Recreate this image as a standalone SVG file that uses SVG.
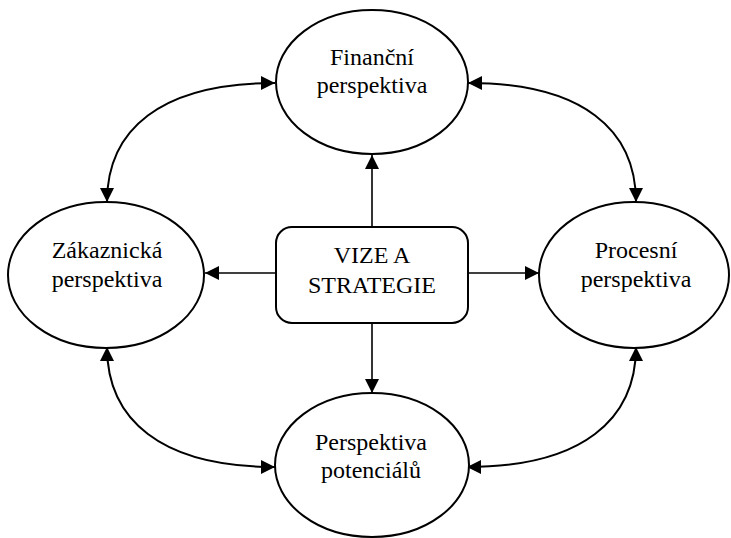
<svg xmlns="http://www.w3.org/2000/svg" width="731" height="538" viewBox="0 0 731 538">
  <style>
    .node { fill: #ffffff; stroke: #000000; stroke-width: 2; }
    .link { fill: none; stroke: #000000; stroke-width: 2; }
    .spoke { fill: none; stroke: #000000; stroke-width: 1.6; }
    .label { font-family: "Liberation Serif", "Times New Roman", serif; font-size: 24px; fill: #000000; text-anchor: middle; }
  </style>
  <defs>
    <marker id="arrow" markerUnits="userSpaceOnUse" markerWidth="15" markerHeight="15" refX="14" refY="7" orient="auto-start-reverse">
      <path d="M0,0 L14,7 L0,14 z" fill="#000000"/>
    </marker>
  </defs>
  <rect width="731" height="538" fill="#ffffff"/>

  <!-- connectors -->
  <g id="connectors">
    <!-- spokes from the centre box -->
    <path class="spoke" d="M372,227 L372,155" marker-end="url(#arrow)"/>
    <path class="spoke" d="M372,323 L372,393" marker-end="url(#arrow)"/>
    <path class="spoke" d="M276,273 L205,273" marker-end="url(#arrow)"/>
    <path class="spoke" d="M468,273 L539,273" marker-end="url(#arrow)"/>
    <!-- curved two-way links between perspectives -->
    <path class="link" d="M275,83 C160,83 107,130 107,202" marker-start="url(#arrow)" marker-end="url(#arrow)"/>
    <path class="link" d="M468,83 C583,83 636,130 636,202" marker-start="url(#arrow)" marker-end="url(#arrow)"/>
    <path class="link" d="M107,347 C107,419 160,467 275,467" marker-start="url(#arrow)" marker-end="url(#arrow)"/>
    <path class="link" d="M636,347 C636,419 583,467 467,467" marker-start="url(#arrow)" marker-end="url(#arrow)"/>
  </g>

  <g id="vize-strategie">
    <rect class="node" x="276" y="227" width="192" height="96" rx="16" ry="16"/>
    <text class="label" x="372" y="263">VIZE A</text>
    <text class="label" x="372" y="293">STRATEGIE</text>
  </g>

  <g id="financni">
    <ellipse class="node" cx="372" cy="82" rx="96" ry="72"/>
    <text class="label" x="372" y="65">Finanční</text>
    <text class="label" x="372" y="93">perspektiva</text>
  </g>

  <g id="zakaznicka">
    <ellipse class="node" cx="106" cy="275" rx="98" ry="73"/>
    <text class="label" x="107" y="258">Zákaznická</text>
    <text class="label" x="107" y="287">perspektiva</text>
  </g>

  <g id="procesni">
    <ellipse class="node" cx="634" cy="275" rx="95" ry="73"/>
    <text class="label" x="636" y="258">Procesní</text>
    <text class="label" x="636" y="287">perspektiva</text>
  </g>

  <g id="potencialu">
    <ellipse class="node" cx="372" cy="465" rx="97" ry="72"/>
    <text class="label" x="371" y="450">Perspektiva</text>
    <text class="label" x="371" y="478">potenciálů</text>
  </g>
</svg>
